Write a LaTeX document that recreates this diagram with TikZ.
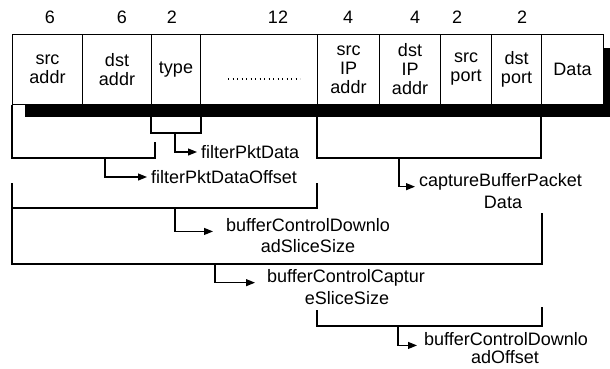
\documentclass[tikz,border=0pt]{standalone}
\usepackage{fontspec}
\setmainfont{Liberation Sans}
\usetikzlibrary{arrows.meta}
\begin{document}
\begin{tikzpicture}[x=1pt,y=-1pt,
  every node/.style={font=\fontsize{18}{19}\selectfont},
  field/.style={draw, fill=white, line width=1pt, minimum height=70pt, inner sep=0pt, align=center, anchor=north west},
  num/.style={inner sep=0pt},
  lbl/.style={inner xsep=4pt, inner ysep=0pt, anchor=west},
  brk/.style={line width=1.1pt},
  arr/.style={line width=1.1pt, -{Triangle[length=9pt,width=7pt]}},
]
\useasboundingbox (0,0) rectangle (610,368);
% shadow bar
\fill (25,48) rectangle (610,117);
% fields
\node[field, minimum width=70pt] (f1) at (12,34) {src\\addr};
\node[field, minimum width=69pt] (f2) at (82,34) {dst\\addr};
\node[field, minimum width=49pt] (f3) at (151,34) {type};
\node[field, minimum width=117pt] (f4) at (200,34) {};
\node[field, minimum width=62pt] (f5) at (317,34) {src\\IP\\addr};
\node[field, minimum width=61pt] (f6) at (379,34) {dst\\IP\\addr};
\node[field, minimum width=51pt] (f7) at (440,34) {src\\port};
\node[field, minimum width=50pt] (f8) at (491,34) {dst\\port};
\node[field, minimum width=62pt] (f9) at (541,34) {Data};
\draw[line width=1.2pt, dash pattern=on 1.2pt off 3.3pt] (228,79) -- (300,79);
% byte counts
\node[num] (n1) at (50,17) {6};
\node[num] (n2) at (122,17) {6};
\node[num] (n3) at (172,17) {2};
\node[num] (n4) at (278,17) {12};
\node[num] (n5) at (348,17) {4};
\node[num] (n6) at (415,17) {4};
\node[num] (n7) at (457,17) {2};
\node[num] (n8) at (522,17) {2};
% labels
\node[lbl] (l1) at (197,152) {filterPktData};
\node[lbl] (l2) at (147,177) {filterPktDataOffset};
\node[lbl] (l3) at (415,182) {captureBufferPacket};
\node[inner sep=0pt] (l3b) at (503,202) {Data};
\node[lbl] (l4) at (222,225) {bufferControlDownlo};
\node[inner sep=0pt] (l4b) at (308,246) {adSliceSize};
\node[lbl] (l5) at (263,278) {bufferControlCaptur};
\node[inner sep=0pt] (l5b) at (347,298) {eSliceSize};
\node[lbl] (l6) at (420,339) {bufferControlDownlo};
\node[inner sep=0pt] (l6b) at (505,357) {adOffset};
% bracket coordinates
\coordinate (b1) at (175,133);
\coordinate (b2) at (105,158);
\coordinate (b2r) at (155,142);
\coordinate (b3) at (399,158);
\coordinate (b4) at (175,208);
\coordinate (b4l) at (12,183);
\coordinate (b4r) at (317,183);
\coordinate (b5) at (215,264);
\coordinate (b5l) at (12,208);
\coordinate (b5r) at (542,213);
\coordinate (b6) at (398,326);
\coordinate (b6l) at (317,310);
\coordinate (b6r) at (542,307);
% brackets
\draw[brk] (f3.south west) |- (b1) -| (f3.south east);
\draw[arr] (b1) |- (l1.west);
\draw[brk] (f1.south west) |- (b2) -| (b2r);
\draw[arr] (b2) |- (l2.west);
\draw[brk] (f5.south west) |- (b3) -| (f9.south west);
\draw[arr] (b3) |- (l3.base west);
\draw[brk] (b4l) |- (b4) -| (b4r);
\draw[arr, shorten >=9pt] (b4) |- (l4.base west);
\draw[brk] (b5l) |- (b5) -| (b5r);
\draw[arr, shorten >=8pt] (b5) |- (l5.base west);
\draw[brk] (b6l) |- (b6) -| (b6r);
\draw[arr, shorten >=3pt] (b6) |- (l6.base west);
\end{tikzpicture}
\end{document}
